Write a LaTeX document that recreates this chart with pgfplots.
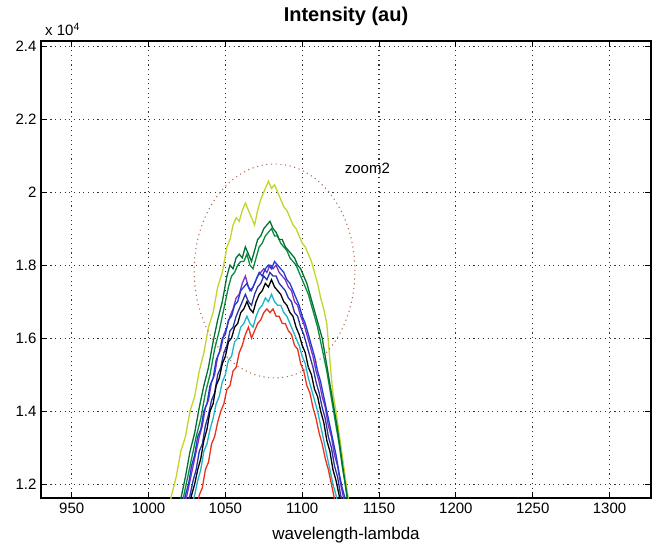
\documentclass[border=0pt]{standalone}
\usepackage{fontspec}
\setmainfont{Liberation Sans}
\usepackage{pgfplots}
\pgfplotsset{compat=1.18}
\definecolor{cyel}{RGB}{196,212,44}
\definecolor{cgrA}{RGB}{0,112,52}
\definecolor{cgrB}{RGB}{10,138,62}
\definecolor{cblu}{RGB}{30,60,210}
\definecolor{cnav}{RGB}{40,52,165}
\definecolor{cpur}{RGB}{128,48,196}
\definecolor{ccya}{RGB}{30,180,200}
\definecolor{cred}{RGB}{232,50,30}
\definecolor{cell}{RGB}{185,105,85}
\begin{document}
\begin{tikzpicture}
\begin{axis}[
  name=ax, at={(0,0)}, anchor=south west,
  scale only axis, width=610pt, height=457pt,
  xmin=930, xmax=1327, ymin=1.162, ymax=2.414,
  xtick={950,1000,...,1300},
  ytick={1.2,1.4,1.6,1.8,2,2.2,2.4},
  yticklabels={1.2,1.4,1.6,1.8,2,2.2,2.4},
  xticklabels={950,1000,1050,1100,1150,1200,1250,1300},
  tick align=inside, major tick length=6pt,
  tick style={black, line width=1pt},
  axis line style={black, line width=1.1pt},
  grid=major,
  major grid style={black!80, line width=1.2pt, dash pattern=on 1.1pt off 3.6pt},
  ticklabel style={font=\fontsize{15}{15}\selectfont},
  xticklabel style={yshift=-1pt},
  yticklabel style={xshift=-1pt},
  title={\bfseries Intensity (au)},
  title style={font=\fontsize{20}{20}\selectfont, at={(axis description cs:0.5,1)}, anchor=base, yshift=13pt},
  xlabel={wavelength-lambda},
  xlabel style={font=\fontsize{17}{17}\selectfont, at={(axis description cs:0.5,0)}, anchor=base, yshift=-41pt},
  every axis plot/.append style={line width=1.3pt},
]
\addplot[cyel] coordinates {
(1008,1.04)(1012,1.11)(1015,1.17)(1018,1.22)(1021,1.29)(1024,1.33)(1027,1.40)(1030,1.44)(1033,1.51)(1036,1.56)(1039,1.63)(1042,1.67)(1045,1.74)(1048,1.78)(1051,1.85)(1053,1.87)(1055,1.91)(1057,1.93)(1059,1.92)(1061,1.95)(1063,1.97)(1065,1.95)(1067,1.93)(1069,1.91)(1071,1.95)(1073,1.98)(1075,2.00)(1077,2.02)(1078,2.03)(1080,2.01)(1082,2.02)(1084,2.00)(1086,1.98)(1088,1.96)(1090,1.95)(1092,1.93)(1094,1.91)(1096,1.90)(1098,1.88)(1100,1.86)(1102,1.85)(1104,1.83)(1106,1.81)(1108,1.78)(1110,1.75)(1112,1.71)(1114,1.68)(1116,1.64)(1117,1.59)(1118,1.54)(1119,1.49)(1120,1.45)(1122,1.40)(1124,1.34)(1126,1.28)(1128,1.22)(1130,1.16)(1133,1.08)(1136,1.00)};
\addplot[cgrB] coordinates {
(1015,1.02)(1019,1.10)(1022,1.15)(1025,1.21)(1028,1.27)(1031,1.33)(1034,1.38)(1037,1.45)(1040,1.50)(1043,1.57)(1046,1.62)(1049,1.68)(1052,1.74)(1054,1.77)(1056,1.78)(1058,1.80)(1060,1.81)(1062,1.81)(1064,1.83)(1066,1.80)(1068,1.79)(1070,1.82)(1072,1.85)(1074,1.86)(1076,1.88)(1078,1.89)(1080,1.90)(1082,1.88)(1084,1.88)(1086,1.86)(1088,1.85)(1090,1.84)(1092,1.82)(1094,1.81)(1096,1.80)(1098,1.78)(1100,1.76)(1102,1.74)(1104,1.72)(1106,1.69)(1108,1.66)(1110,1.63)(1112,1.59)(1114,1.55)(1116,1.51)(1118,1.46)(1120,1.41)(1122,1.36)(1124,1.31)(1126,1.25)(1128,1.20)(1130,1.15)(1133,1.08)};
\addplot[cgrA] coordinates {
(1014,1.02)(1018,1.10)(1021,1.16)(1024,1.22)(1027,1.29)(1030,1.34)(1033,1.41)(1036,1.47)(1039,1.52)(1042,1.59)(1045,1.65)(1048,1.70)(1051,1.77)(1053,1.80)(1055,1.79)(1057,1.82)(1059,1.83)(1061,1.82)(1063,1.85)(1065,1.83)(1067,1.81)(1069,1.84)(1071,1.87)(1073,1.88)(1075,1.90)(1077,1.91)(1079,1.92)(1081,1.90)(1083,1.89)(1085,1.87)(1087,1.87)(1089,1.85)(1091,1.84)(1093,1.83)(1095,1.82)(1097,1.80)(1099,1.79)(1101,1.77)(1103,1.75)(1105,1.72)(1107,1.69)(1109,1.66)(1111,1.63)(1113,1.60)(1115,1.55)(1117,1.50)(1119,1.45)(1121,1.40)(1123,1.35)(1125,1.29)(1127,1.23)(1129,1.17)(1131,1.12)(1134,1.04)};
\addplot[cpur] coordinates {
(1018,1.05)(1021,1.10)(1023,1.14)(1025,1.17)(1027,1.21)(1029,1.25)(1031,1.29)(1033,1.33)(1035,1.36)(1037,1.41)(1039,1.43)(1041,1.48)(1043,1.50)(1045,1.55)(1047,1.57)(1049,1.61)(1051,1.63)(1053,1.66)(1055,1.68)(1057,1.71)(1059,1.72)(1061,1.75)(1063,1.77)(1065,1.74)(1067,1.73)(1069,1.75)(1071,1.77)(1073,1.78)(1075,1.79)(1077,1.78)(1079,1.80)(1081,1.79)(1083,1.80)(1085,1.78)(1087,1.77)(1089,1.76)(1091,1.74)(1093,1.73)(1095,1.70)(1097,1.69)(1099,1.66)(1101,1.64)(1103,1.61)(1105,1.58)(1107,1.55)(1109,1.51)(1111,1.48)(1113,1.44)(1115,1.41)(1117,1.36)(1119,1.33)(1121,1.28)(1123,1.25)(1125,1.20)(1127,1.16)(1130,1.09)};
\addplot[cblu] coordinates {
(1017,1.05)(1020,1.10)(1022,1.13)(1024,1.17)(1026,1.20)(1028,1.25)(1030,1.28)(1032,1.33)(1034,1.35)(1036,1.40)(1038,1.42)(1040,1.47)(1042,1.49)(1044,1.54)(1046,1.56)(1048,1.60)(1050,1.61)(1052,1.65)(1054,1.66)(1056,1.69)(1058,1.70)(1060,1.73)(1062,1.74)(1064,1.75)(1066,1.73)(1068,1.74)(1070,1.76)(1072,1.78)(1074,1.77)(1076,1.79)(1078,1.80)(1080,1.79)(1082,1.81)(1084,1.80)(1086,1.79)(1088,1.78)(1090,1.76)(1092,1.75)(1094,1.73)(1096,1.71)(1098,1.69)(1100,1.66)(1102,1.64)(1104,1.61)(1106,1.58)(1108,1.55)(1110,1.51)(1112,1.48)(1114,1.44)(1116,1.40)(1118,1.36)(1120,1.32)(1122,1.28)(1124,1.23)(1126,1.19)(1128,1.16)(1131,1.09)};
\addplot[cnav] coordinates {
(1020,1.05)(1023,1.10)(1025,1.14)(1027,1.17)(1029,1.21)(1031,1.24)(1033,1.29)(1035,1.31)(1037,1.36)(1039,1.39)(1041,1.43)(1043,1.45)(1045,1.50)(1047,1.52)(1049,1.56)(1051,1.58)(1053,1.62)(1055,1.63)(1057,1.66)(1059,1.68)(1061,1.70)(1063,1.72)(1065,1.70)(1067,1.69)(1069,1.72)(1071,1.74)(1073,1.75)(1075,1.77)(1077,1.76)(1079,1.78)(1081,1.77)(1083,1.77)(1085,1.75)(1087,1.74)(1089,1.73)(1091,1.71)(1093,1.70)(1095,1.67)(1097,1.66)(1099,1.63)(1101,1.61)(1103,1.58)(1105,1.55)(1107,1.52)(1109,1.48)(1111,1.45)(1113,1.41)(1115,1.38)(1117,1.33)(1119,1.30)(1121,1.25)(1123,1.22)(1125,1.17)(1127,1.14)(1130,1.07)};
\addplot[black] coordinates {
(1021,1.05)(1024,1.10)(1026,1.13)(1028,1.17)(1030,1.20)(1032,1.24)(1034,1.27)(1036,1.32)(1038,1.35)(1040,1.40)(1042,1.42)(1044,1.47)(1046,1.49)(1048,1.53)(1050,1.55)(1052,1.59)(1054,1.60)(1056,1.63)(1058,1.64)(1060,1.67)(1062,1.68)(1064,1.70)(1066,1.68)(1068,1.67)(1070,1.70)(1072,1.72)(1074,1.73)(1076,1.75)(1078,1.74)(1080,1.76)(1082,1.74)(1084,1.73)(1086,1.72)(1088,1.70)(1090,1.69)(1092,1.67)(1094,1.66)(1096,1.63)(1098,1.61)(1100,1.58)(1102,1.56)(1104,1.52)(1106,1.50)(1108,1.46)(1110,1.44)(1112,1.40)(1114,1.37)(1116,1.32)(1118,1.29)(1120,1.24)(1122,1.21)(1124,1.17)(1126,1.13)(1129,1.06)};
\addplot[ccya] coordinates {
(1023,1.05)(1026,1.10)(1028,1.14)(1030,1.17)(1032,1.21)(1034,1.24)(1036,1.29)(1038,1.31)(1040,1.35)(1042,1.38)(1044,1.42)(1046,1.44)(1048,1.48)(1050,1.50)(1052,1.54)(1054,1.55)(1056,1.59)(1058,1.60)(1060,1.63)(1062,1.64)(1064,1.66)(1066,1.64)(1068,1.63)(1070,1.66)(1072,1.68)(1074,1.69)(1076,1.71)(1078,1.70)(1080,1.72)(1082,1.70)(1084,1.69)(1086,1.69)(1088,1.67)(1090,1.66)(1092,1.64)(1094,1.62)(1096,1.60)(1098,1.58)(1100,1.55)(1102,1.53)(1104,1.49)(1106,1.46)(1108,1.43)(1110,1.40)(1112,1.36)(1114,1.32)(1116,1.28)(1118,1.24)(1120,1.20)(1122,1.17)(1124,1.13)(1127,1.06)};
\addplot[cred] coordinates {
(1026,1.05)(1029,1.10)(1031,1.13)(1033,1.17)(1035,1.19)(1037,1.24)(1039,1.26)(1041,1.31)(1043,1.33)(1045,1.37)(1047,1.40)(1049,1.42)(1051,1.46)(1053,1.47)(1055,1.51)(1057,1.52)(1059,1.56)(1061,1.58)(1063,1.61)(1065,1.63)(1067,1.60)(1069,1.62)(1071,1.64)(1073,1.65)(1075,1.67)(1077,1.68)(1079,1.67)(1081,1.68)(1083,1.66)(1085,1.66)(1087,1.64)(1089,1.64)(1091,1.62)(1093,1.61)(1095,1.58)(1097,1.57)(1099,1.53)(1101,1.51)(1103,1.47)(1105,1.45)(1107,1.41)(1109,1.38)(1111,1.34)(1113,1.31)(1115,1.27)(1117,1.24)(1119,1.20)(1121,1.16)(1123,1.12)(1126,1.05)};
\draw[cell, line width=1.1pt, dash pattern=on 1.1pt off 3.6pt] (axis cs:1082,1.784) ellipse [x radius=52.3, y radius=0.293];
\node[font=\fontsize{15}{15}\selectfont, anchor=center] at (axis cs:1142.4,2.066) {zoom2};
\end{axis}
\node[anchor=base west, font=\fontsize{15}{15}\selectfont, inner sep=0pt] at ([xshift=4pt,yshift=5pt]ax.north west) {x 10\textsuperscript{4}};
\path[use as bounding box] (-41pt,-48pt) rectangle (611pt,498pt);
\end{tikzpicture}
\end{document}
